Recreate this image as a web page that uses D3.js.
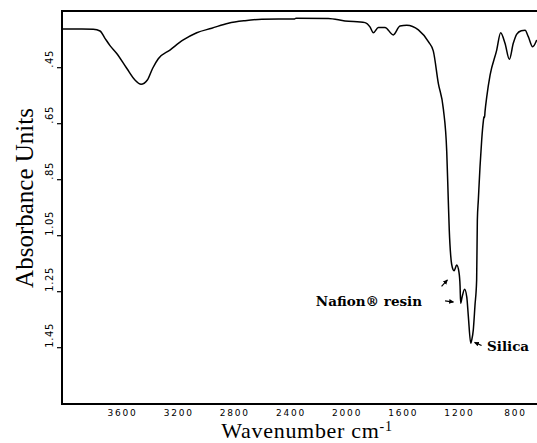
<!DOCTYPE html>
<html>
<head>
<meta charset="utf-8">
<script src="https://cdnjs.cloudflare.com/ajax/libs/d3/7.8.5/d3.min.js"></script>
<style>
  html, body { margin: 0; padding: 0; background: #fff; }
  svg { display: block; }
</style>
</head>
<body>
<svg id="chart" width="537" height="443"></svg>
<script>
// IR spectrum, wavenumber (cm-1) vs absorbance
const wavenumber = [4042, 3900, 3819, 3771, 3736, 3700, 3652, 3581, 3522, 3479, 3434, 3396, 3356, 3273, 3178, 3082,
  2975, 2857, 2738, 2619, 2500, 2385, 2375, 2145, 2026, 1883, 1848, 1824, 1788, 1741, 1682, 1634, 1586, 1503,
  1432, 1397, 1361, 1325, 1301, 1290, 1283, 1273, 1266, 1249, 1230, 1214, 1206, 1202, 1192, 1174, 1158, 1147,
  1130, 1122, 1112, 1100, 1088, 1083, 1076, 1064, 1052, 1040, 1036, 1032, 1028, 1016, 992, 945, 917, 886, 855,
  827, 802, 770, 743, 720, 689, 660];
const absorbance = [0.312, 0.312, 0.313, 0.319, 0.345, 0.371, 0.399, 0.452, 0.494, 0.509, 0.494, 0.452, 0.418, 0.387, 0.351, 0.325,
  0.309, 0.291, 0.282, 0.277, 0.276, 0.276, 0.273, 0.274, 0.283, 0.289, 0.304, 0.325, 0.306, 0.306, 0.333, 0.301, 0.298, 0.315,
  0.357, 0.390, 0.506, 0.598, 0.750, 0.923, 1.030, 1.120, 1.152, 1.175, 1.155, 1.180, 1.230, 1.291, 1.270, 1.241, 1.270, 1.339,
  1.434, 1.420, 1.387, 1.300, 1.208, 0.994, 0.923, 0.804, 0.708, 0.640, 0.625, 0.628, 0.605, 0.554, 0.476, 0.387, 0.325, 0.363, 0.420,
  0.363, 0.330, 0.318, 0.316, 0.339, 0.375, 0.351];

const xTicks = [3600, 3200, 2800, 2400, 2000, 1600, 1200, 800];
const yTicks = [0.45, 0.65, 0.85, 1.05, 1.25, 1.45];
const yTickLabels = [".45", ".65", ".85", "1.05", "1.25", "1.45"];

// annotation arrows: [tail wavenumber, tail abs, tip wavenumber, tip abs]
const arrows = [
  [1338, 1.231, 1296, 1.208],
  [1313, 1.283, 1253, 1.287],
  [1053, 1.442, 1103, 1.431]
];
const labels = [
  { text: "Nafion® resin", w: 1477, a: 1.30, anchor: "end" },
  { text: "Silica", w: 1014, a: 1.462, anchor: "start" }
];

const data = wavenumber.map((w, i) => [w, absorbance[i]]);

const svg = d3.select("#chart");
const margin = { left: 62, right: 537, top: 11.7, bottom: 403.7 };

const x = d3.scaleLinear().domain([4042, 658]).range([margin.left, margin.right]);
const y = d3.scaleLinear().domain([0.25, 1.65]).range([margin.top, margin.bottom]);

// frame (no right side, the scan is cut off there)
svg.append("path")
  .attr("d", `M${margin.right},${margin.top - 0.7}H${margin.left}V${margin.bottom + 0.3}H${margin.right}`)
  .attr("fill", "none")
  .attr("stroke", "#000")
  .attr("stroke-width", 2);

// y ticks
svg.append("g")
  .selectAll("line")
  .data(yTicks)
  .enter()
  .append("line")
  .attr("x1", margin.left - 5).attr("x2", margin.left)
  .attr("y1", d => y(d)).attr("y2", d => y(d))
  .attr("stroke", "#000")
  .attr("stroke-width", 1.2);

svg.append("g")
  .selectAll("text")
  .data(yTicks)
  .enter()
  .append("text")
  .attr("transform", d => `translate(53,${y(d)}) rotate(-90)`)
  .attr("text-anchor", "start")
  .style("font-family", "DejaVu Sans")
  .style("font-size", "10px")
  .style("letter-spacing", "0.6px")
  .text((d, i) => yTickLabels[i]);

// x tick labels
svg.append("g")
  .selectAll("text")
  .data(xTicks)
  .enter()
  .append("text")
  .attr("x", d => x(d) - 1.5)
  .attr("y", 415.5)
  .attr("text-anchor", "middle")
  .style("font-family", "DejaVu Sans")
  .style("font-size", "9px")
  .style("letter-spacing", "1.8px")
  .text(d => d);

// axis titles
const xt = svg.append("text")
  .attr("x", 307)
  .attr("y", 438)
  .attr("text-anchor", "middle")
  .style("font-family", "Liberation Serif")
  .style("font-size", "22px")
  .style("letter-spacing", "0.7px");
xt.append("tspan").text("Wavenumber  cm");
xt.append("tspan").attr("dy", -7).style("font-size", "14px").text("-1");

svg.append("text")
  .attr("transform", "translate(33,198) rotate(-90)")
  .attr("text-anchor", "middle")
  .style("font-family", "Liberation Serif")
  .style("font-size", "25px")
  .text("Absorbance Units");

// spectrum
const line = d3.line()
  .x(d => x(d[0]))
  .y(d => y(d[1]))
  .curve(d3.curveMonotoneX);

svg.append("path")
  .datum(data)
  .attr("d", line)
  .attr("fill", "none")
  .attr("stroke", "#000")
  .attr("stroke-width", 1.5)
  .attr("stroke-linejoin", "round");

// annotations
svg.append("defs").append("marker")
  .attr("id", "head")
  .attr("viewBox", "0 0 10 10")
  .attr("refX", 9).attr("refY", 5)
  .attr("markerWidth", 4).attr("markerHeight", 4)
  .attr("orient", "auto")
  .append("path")
  .attr("d", "M0,0L10,5L0,10z")
  .attr("fill", "#000");

svg.append("g")
  .selectAll("line")
  .data(arrows)
  .enter()
  .append("line")
  .attr("x1", d => x(d[0])).attr("y1", d => y(d[1]))
  .attr("x2", d => x(d[2])).attr("y2", d => y(d[3]))
  .attr("stroke", "#000")
  .attr("stroke-width", 1.2)
  .attr("marker-end", "url(#head)");

svg.append("g")
  .selectAll("text")
  .data(labels)
  .enter()
  .append("text")
  .attr("x", d => x(d.w))
  .attr("y", d => y(d.a))
  .attr("text-anchor", d => d.anchor)
  .style("font-family", "DejaVu Serif")
  .style("font-weight", "bold")
  .style("font-size", "13.5px")
  .text(d => d.text);
</script>
</body>
</html>
